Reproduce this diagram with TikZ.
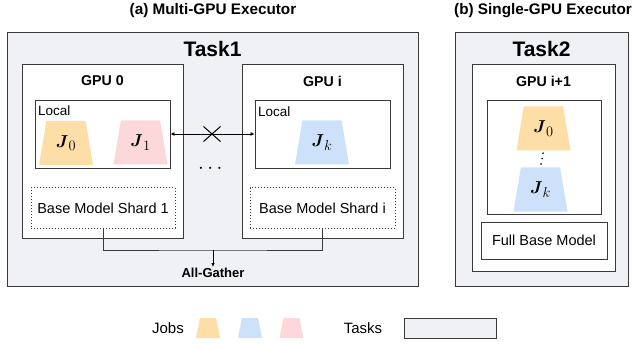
\documentclass[tikz,border=0pt]{standalone}
\usepackage{amsmath}
\usepackage{fontspec}
\setmainfont{Liberation Sans}
\usetikzlibrary{shapes.geometric,shapes.misc,arrows.meta}

\definecolor{jobyellow}{HTML}{FDDEA7}
\definecolor{jobblue}{HTML}{CDE1FB}
\definecolor{jobpink}{HTML}{FDD8DB}
\definecolor{taskgray}{HTML}{F0F1F4}
\definecolor{edgegray}{HTML}{3A3A3A}

\tikzset{
  taskbox/.style={draw=edgegray, line width=1pt, fill=taskgray, inner sep=0pt},
  gpubox/.style={draw=edgegray, line width=0.9pt, fill=white, inner sep=0pt},
  shardbox/.style={draw=edgegray, line width=1pt, dotted, fill=white, inner sep=0pt,
    font=\fontsize{14.5}{17}\selectfont},
  job/.style={trapezium, trapezium stretches=true, trapezium angle=76,
    minimum width=54pt, minimum height=44pt, inner sep=0pt,
    font=\fontsize{19}{19}\selectfont},
  jobkey/.style={trapezium, trapezium stretches=true, trapezium angle=80,
    minimum width=24pt, minimum height=20pt, inner sep=0pt},
  title/.style={font=\fontsize{15.3}{17}\selectfont\bfseries},
  gpulabel/.style={font=\fontsize{14.2}{16}\selectfont\bfseries},
  plain/.style={font=\fontsize{13.5}{15}\selectfont, inner sep=0pt},
}
\newcommand{\jlabel}[1]{$\boldsymbol{J}_{#1}$}

\begin{document}
\begin{tikzpicture}[x=1pt,y=-1pt]
\useasboundingbox (0,0) rectangle (633,345);

% captions
\node[title] (capa) at (213,11) {(a) Multi-GPU Executor};
\node[title] (capb) at (543,11) {(b) Single-GPU Executor};

% tasks
\node[taskbox, minimum width=411pt, minimum height=253pt] (task1) at (212.5,159.5) {};
\node[taskbox, minimum width=173pt, minimum height=253pt] (task2) at (541.5,159.5) {};
\node[font=\fontsize{21}{24}\selectfont\bfseries] (t1) at (212.5,49) {Task1};
\node[font=\fontsize{21}{24}\selectfont\bfseries] (t2) at (541.5,49) {Task2};

% gpus
\node[gpubox, minimum width=161pt, minimum height=174pt] (gpu0) at (102.5,151) {};
\node[gpubox, minimum width=161pt, minimum height=174pt] (gpui) at (322.5,151) {};
\node[gpubox, minimum width=143pt, minimum height=207pt] (gpun) at (543.5,167.5) {};
\node[gpulabel] at (102.5,81) {GPU 0};
\node[gpulabel] at (322.5,81) {GPU i};
\node[gpulabel] at (543.5,81) {GPU i+1};

% local stores
\node[gpubox, minimum width=135pt, minimum height=68pt] (local0) at (102.5,134) {};
\node[gpubox, minimum width=135pt, minimum height=68pt] (locali) at (322.5,134) {};
\node[gpubox, minimum width=114pt, minimum height=114pt] (localn) at (544,157) {};
\node[plain, anchor=west] at (38,111) {Local};
\node[plain, anchor=west] at (258,112) {Local};

% jobs
\node[job, fill=jobyellow] (j0) at (66,143) {\jlabel{0}};
\node[job, fill=jobpink] (j1) at (140.5,142.5) {\jlabel{1}};
\node[job, fill=jobblue] (jk) at (322,142.5) {\jlabel{k}};
\node[job, fill=jobyellow] (n0) at (543.5,128.5) {\jlabel{0}};
\node[job, fill=jobblue] (nk) at (540.5,189.5) {\jlabel{k}};
\draw[line width=1.8pt, line cap=round, dash pattern=on 0pt off 5.5pt, shorten <=2.5pt, shorten >=2.5pt]
  (n0.south) -- (nk.north);

% no link between gpus
\draw[{Latex[length=4pt,width=4pt]}-{Latex[length=4pt,width=4pt]}, line width=0.8pt]
  (local0.east) -- (locali.west);
\node[cross out, draw=black, line width=1pt, minimum width=16pt, minimum height=14pt,
  inner sep=0pt] (nolink) at (212,134) {};
\node[font=\fontsize{21}{21}\selectfont, inner sep=0pt] (more) at (212,168.5) {$\cdots$};

% base model
\node[shardbox, minimum width=144pt, minimum height=40pt] (shard1) at (103,208) {Base Model Shard 1};
\node[shardbox, minimum width=145pt, minimum height=40pt] (shardi) at (322.5,208) {Base Model Shard i};
\node[gpubox, minimum width=126pt, minimum height=37pt, font=\fontsize{14.5}{17}\selectfont]
  (full) at (544,240.5) {Full Base Model};

% all-gather
\node[font=\fontsize{13}{15}\selectfont\bfseries, inner sep=1pt] (gather) at (213,273) {All-Gather};
\coordinate (bus) at (213,250);
\draw[line width=1pt, edgegray] (shard1.south) |- (bus) -| (shardi.south);
\draw[-{Latex[length=4pt,width=3.5pt]}, line width=0.8pt] (bus) -- (gather.north);

% legend
\node[font=\fontsize{15}{17}\selectfont] (jobs) at (168,328) {Jobs};
\node[jobkey, fill=jobyellow] (key0) at (208,328) {\phantom{J}};
\node[jobkey, fill=jobblue] (key1) at (250,328) {\phantom{J}};
\node[jobkey, fill=jobpink] (key2) at (291.5,328) {\phantom{J}};
\node[font=\fontsize{15}{17}\selectfont] (tasks) at (363,328) {Tasks};
\node[taskbox, minimum width=92pt, minimum height=20pt] (keyt) at (450,328) {};
\end{tikzpicture}
\end{document}
